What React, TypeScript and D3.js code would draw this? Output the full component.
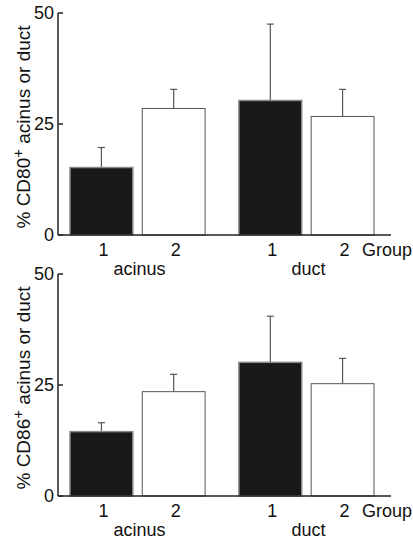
import React from 'react';
import * as d3 from 'd3';

// tissue groups and patient groups
const tissues = ['acinus', 'duct'];
const patientGroups = ['1', '2'];

// means (%) and upper SD, ordered acinus-1, acinus-2, duct-1, duct-2
const cd80Means = [15.2, 28.5, 30.3, 26.7];
const cd80Sd = [4.5, 4.3, 17.2, 6.1];
const cd86Means = [14.5, 23.5, 30.1, 25.3];
const cd86Sd = [2.0, 3.9, 10.4, 5.7];

const yTicks = [0, 25, 50];

const W = 413;
const H = 541;
const font = 'Liberation Sans, Arial, Helvetica, sans-serif';

const outer = d3.scaleBand<string>().domain(tissues).range([70, 374]).paddingInner(0.2);
const inner = d3.scaleBand<string>().domain(patientGroups).range([0, outer.bandwidth()]).paddingInner(0.13);

function Panel({ top, marker, means, sd }: { top: number; marker: string; means: number[]; sd: number[] }) {
  const y = d3.scaleLinear().domain([0, 50]).range([222, 0]);
  const axisX = 58;
  const rows = tissues.flatMap((t, i) =>
    patientGroups.map((g, j) => ({ t, g, mean: means[i * 2 + j], sd: sd[i * 2 + j] }))
  );

  return (
    <g transform={`translate(0,${top})`}>
      {/* y axis */}
      <line x1={axisX} x2={axisX} y1={y(50)} y2={y(0)} stroke="#222" strokeWidth={1.5} />
      {yTicks.map((t) => (
        <g key={t}>
          <line x1={axisX} x2={axisX + 5} y1={y(t)} y2={y(t)} stroke="#222" strokeWidth={1.5} />
          <text x={54} y={y(t)} dy="0.36em" textAnchor="end" fontSize={18} fontFamily={font} fill="#111">
            {t}
          </text>
        </g>
      ))}
      <text
        transform={`translate(30,${y(25) + 3}) rotate(-90)`}
        textAnchor="middle"
        fontSize={19}
        fontFamily={font}
        fill="#111"
      >
        % CD{marker}
        <tspan dy={-7} fontSize={15}>+</tspan>
        <tspan dy={7}> acinus or duct</tspan>
      </text>

      {/* bars */}
      {rows.map((r) => {
        const x = (outer(r.t) ?? 0) + (inner(r.g) ?? 0);
        const bw = inner.bandwidth();
        const dark = r.g === '1';
        const cx = x + bw / 2;
        return (
          <g key={r.t + r.g}>
            <line x1={cx} x2={cx} y1={y(r.mean)} y2={y(r.mean + r.sd)} stroke="#555" strokeWidth={1.2} />
            <line x1={cx - 3.5} x2={cx + 3.5} y1={y(r.mean + r.sd)} y2={y(r.mean + r.sd)} stroke="#555" strokeWidth={1.2} />
            <rect
              x={x}
              y={y(r.mean)}
              width={bw}
              height={y(0) - y(r.mean)}
              fill={dark ? '#181818' : '#fff'}
              stroke={dark ? '#8a8a8a' : '#555'}
              strokeWidth={dark ? 1.5 : 1}
            />
            <text x={cx + 2} y={y(0) + 21} textAnchor="middle" fontSize={18} fontFamily={font} fill="#111">
              {r.g}
            </text>
          </g>
        );
      })}

      {/* x axis */}
      <line x1={axisX} x2={391} y1={y(0)} y2={y(0)} stroke="#222" strokeWidth={1.5} />
      <text x={362} y={y(0) + 21} fontSize={18} fontFamily={font} fill="#111">Group</text>
      {tissues.map((t) => (
        <text
          key={t}
          x={(outer(t) ?? 0) + outer.bandwidth() / 2 + 2}
          y={y(0) + 40}
          textAnchor="middle"
          fontSize={18}
          fontFamily={font}
          fill="#111"
        >
          {t}
        </text>
      ))}
    </g>
  );
}

export default function App() {
  return (
    <svg width={W} height={H} style={{ position: 'absolute', left: 0, top: 0, background: '#fff' }}>
      <rect width={W} height={H} fill="#fff" />
      <Panel top={13} marker="80" means={cd80Means} sd={cd80Sd} />
      <Panel top={274} marker="86" means={cd86Means} sd={cd86Sd} />
    </svg>
  );
}
